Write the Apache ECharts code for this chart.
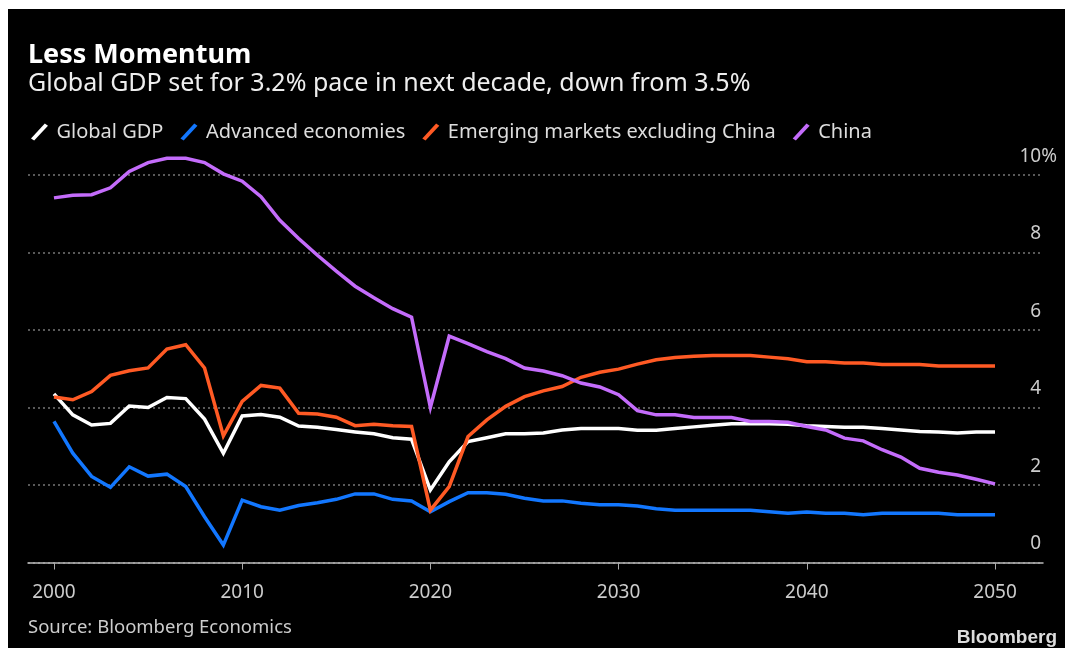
<!DOCTYPE html>
<html>
<head>
<meta charset="utf-8">
<script src="https://cdn.jsdelivr.net/npm/echarts@6/dist/echarts.min.js"></script>
<style>
  html, body { margin: 0; padding: 0; background: #fff; }
  #chart { position: absolute; left: 8px; top: 9px; width: 1057px; height: 639px; background: #000; }
</style>
</head>
<body>
<div id="chart"></div>
<script>
// Annual real GDP growth, %
const years = [
  2000, 2001, 2002, 2003, 2004, 2005, 2006, 2007, 2008, 2009,
  2010, 2011, 2012, 2013, 2014, 2015, 2016, 2017, 2018, 2019,
  2020, 2021, 2022, 2023, 2024, 2025, 2026, 2027, 2028, 2029,
  2030, 2031, 2032, 2033, 2034, 2035, 2036, 2037, 2038, 2039,
  2040, 2041, 2042, 2043, 2044, 2045, 2046, 2047, 2048, 2049, 2050
];

const globalGdp = [
  4.35, 3.81, 3.55, 3.59, 4.04, 4.00, 4.26, 4.23, 3.70, 2.82,
  3.78, 3.82, 3.75, 3.52, 3.49, 3.43, 3.37, 3.32, 3.22, 3.18,
  1.87, 2.60, 3.12, 3.22, 3.32, 3.32, 3.34, 3.42, 3.46, 3.46,
  3.46, 3.41, 3.41, 3.46, 3.50, 3.54, 3.58, 3.58, 3.58, 3.57,
  3.53, 3.51, 3.49, 3.49, 3.46, 3.42, 3.38, 3.37, 3.34, 3.37, 3.37
];

const advanced = [
  3.64, 2.82, 2.22, 1.94, 2.47, 2.23, 2.28, 1.96, 1.18, 0.45,
  1.61, 1.44, 1.35, 1.47, 1.54, 1.63, 1.77, 1.77, 1.63, 1.59,
  1.31, 1.57, 1.80, 1.80, 1.76, 1.66, 1.59, 1.59, 1.53, 1.49,
  1.49, 1.46, 1.39, 1.35, 1.35, 1.35, 1.35, 1.35, 1.31, 1.27,
  1.30, 1.27, 1.27, 1.23, 1.27, 1.27, 1.27, 1.27, 1.23, 1.23, 1.23
];

const emergingExChina = [
  4.27, 4.20, 4.41, 4.83, 4.95, 5.02, 5.51, 5.62, 5.02, 3.27,
  4.16, 4.57, 4.50, 3.85, 3.83, 3.75, 3.53, 3.57, 3.53, 3.51,
  1.35, 1.96, 3.25, 3.68, 4.03, 4.28, 4.43, 4.54, 4.78, 4.91,
  4.99, 5.12, 5.23, 5.29, 5.32, 5.34, 5.34, 5.34, 5.30, 5.26,
  5.18, 5.18, 5.15, 5.15, 5.11, 5.11, 5.11, 5.07, 5.07, 5.07, 5.07
];

const china = [
  9.41, 9.48, 9.49, 9.67, 10.09, 10.32, 10.43, 10.43, 10.32, 10.03,
  9.84, 9.44, 8.83, 8.36, 7.93, 7.52, 7.13, 6.83, 6.55, 6.33,
  4.00, 5.84, 5.65, 5.44, 5.26, 5.02, 4.94, 4.82, 4.63, 4.53,
  4.33, 3.92, 3.81, 3.81, 3.74, 3.74, 3.74, 3.64, 3.64, 3.62,
  3.51, 3.42, 3.21, 3.14, 2.91, 2.72, 2.43, 2.33, 2.26, 2.15, 2.03
];

const seriesNames = ['Global GDP', 'Advanced economies', 'Emerging markets excluding China', 'China'];
const seriesValues = [globalGdp, advanced, emergingExChina, china];
const seriesColors = ['#ffffff', '#1277ff', '#ff5a24', '#c46cfb'];

const xTicks = [2000, 2010, 2020, 2030, 2040, 2050];

const titleText = 'Less Momentum';
const subtitleText = 'Global GDP set for 3.2% pace in next decade, down from 3.5%';
const sourceText = 'Source: Bloomberg Economics';
const brandText = 'Bloomberg';

const FONT = '"Noto Sans", "DejaVu Sans", sans-serif';
const slashIcon = 'path://M0,14 L13,0 L16,2 L3,16 Z';

const chart = echarts.init(document.getElementById('chart'), null, { renderer: 'canvas' });

chart.setOption({
  backgroundColor: '#000',
  animation: false,
  textStyle: { fontFamily: FONT },
  graphic: [
    { type: 'text', style: { text: titleText, x: 20, y: 46, textVerticalAlign: 'middle',
        font: 'bold 27px ' + FONT, fill: '#ffffff' } },
    { type: 'text', style: { text: subtitleText, x: 20, y: 75, textVerticalAlign: 'middle',
        font: '25px ' + FONT, fill: '#eeeeee' } },
    { type: 'text', style: { text: sourceText, x: 20, y: 619, textVerticalAlign: 'middle',
        font: '18.5px ' + FONT, fill: '#cccccc' } },
    { type: 'text', style: { text: brandText, x: 1049, y: 629, textAlign: 'right', textVerticalAlign: 'middle',
        font: 'bold 19px "Liberation Sans", Arial, sans-serif', fill: '#dddddd' } }
  ],
  legend: {
    left: 18,
    top: 108,
    icon: slashIcon,
    itemWidth: 18,
    itemHeight: 17,
    itemGap: 17,
    textStyle: { color: '#dddddd', fontSize: 20, fontFamily: FONT, padding: [0, 0, 0, 3] },
    data: seriesNames
  },
  grid: { left: 20, right: 22, top: 166, bottom: 85.5, containLabel: false },
  xAxis: {
    type: 'value',
    min: 1998.62,
    max: 2052.55,
    axisLine: { show: true, lineStyle: { color: '#bbbbbb', width: 1.5 } },
    axisTick: { show: true, customValues: xTicks, length: 7, lineStyle: { color: '#aaaaaa', width: 1 } },
    axisLabel: { customValues: xTicks, color: '#cccccc', fontSize: 19, margin: 21, fontFamily: FONT,
      formatter: v => String(v) },
    splitLine: { show: false }
  },
  yAxis: {
    type: 'value',
    position: 'right',
    min: 0,
    max: 10,
    interval: 2,
    axisLine: { show: false },
    axisTick: { show: false },
    splitLine: { show: true, lineStyle: { color: '#777777', width: 1.5, type: [2, 3] } },
    axisLabel: {
      inside: true,
      margin: -14,
      verticalAlign: 'bottom',
      padding: [0, 0, 9, 0],
      formatter: v => v === 10 ? '{n|10}{p|%}' : '{n|' + v + '}{h|%}',
      rich: {
        n: { color: '#cccccc', fontSize: 19, fontFamily: FONT },
        p: { color: '#cccccc', fontSize: 19, fontFamily: FONT },
        h: { color: 'rgba(0,0,0,0)', fontSize: 19, fontFamily: FONT }
      }
    }
  },
  series: seriesNames.map((name, i) => ({
    name,
    type: 'line',
    symbol: 'none',
    clip: false,
    color: seriesColors[i],
    lineStyle: { width: 3.5, color: seriesColors[i], join: 'miter' },
    data: years.map((y, k) => [y, seriesValues[i][k]])
  }))
});
</script>
</body>
</html>
